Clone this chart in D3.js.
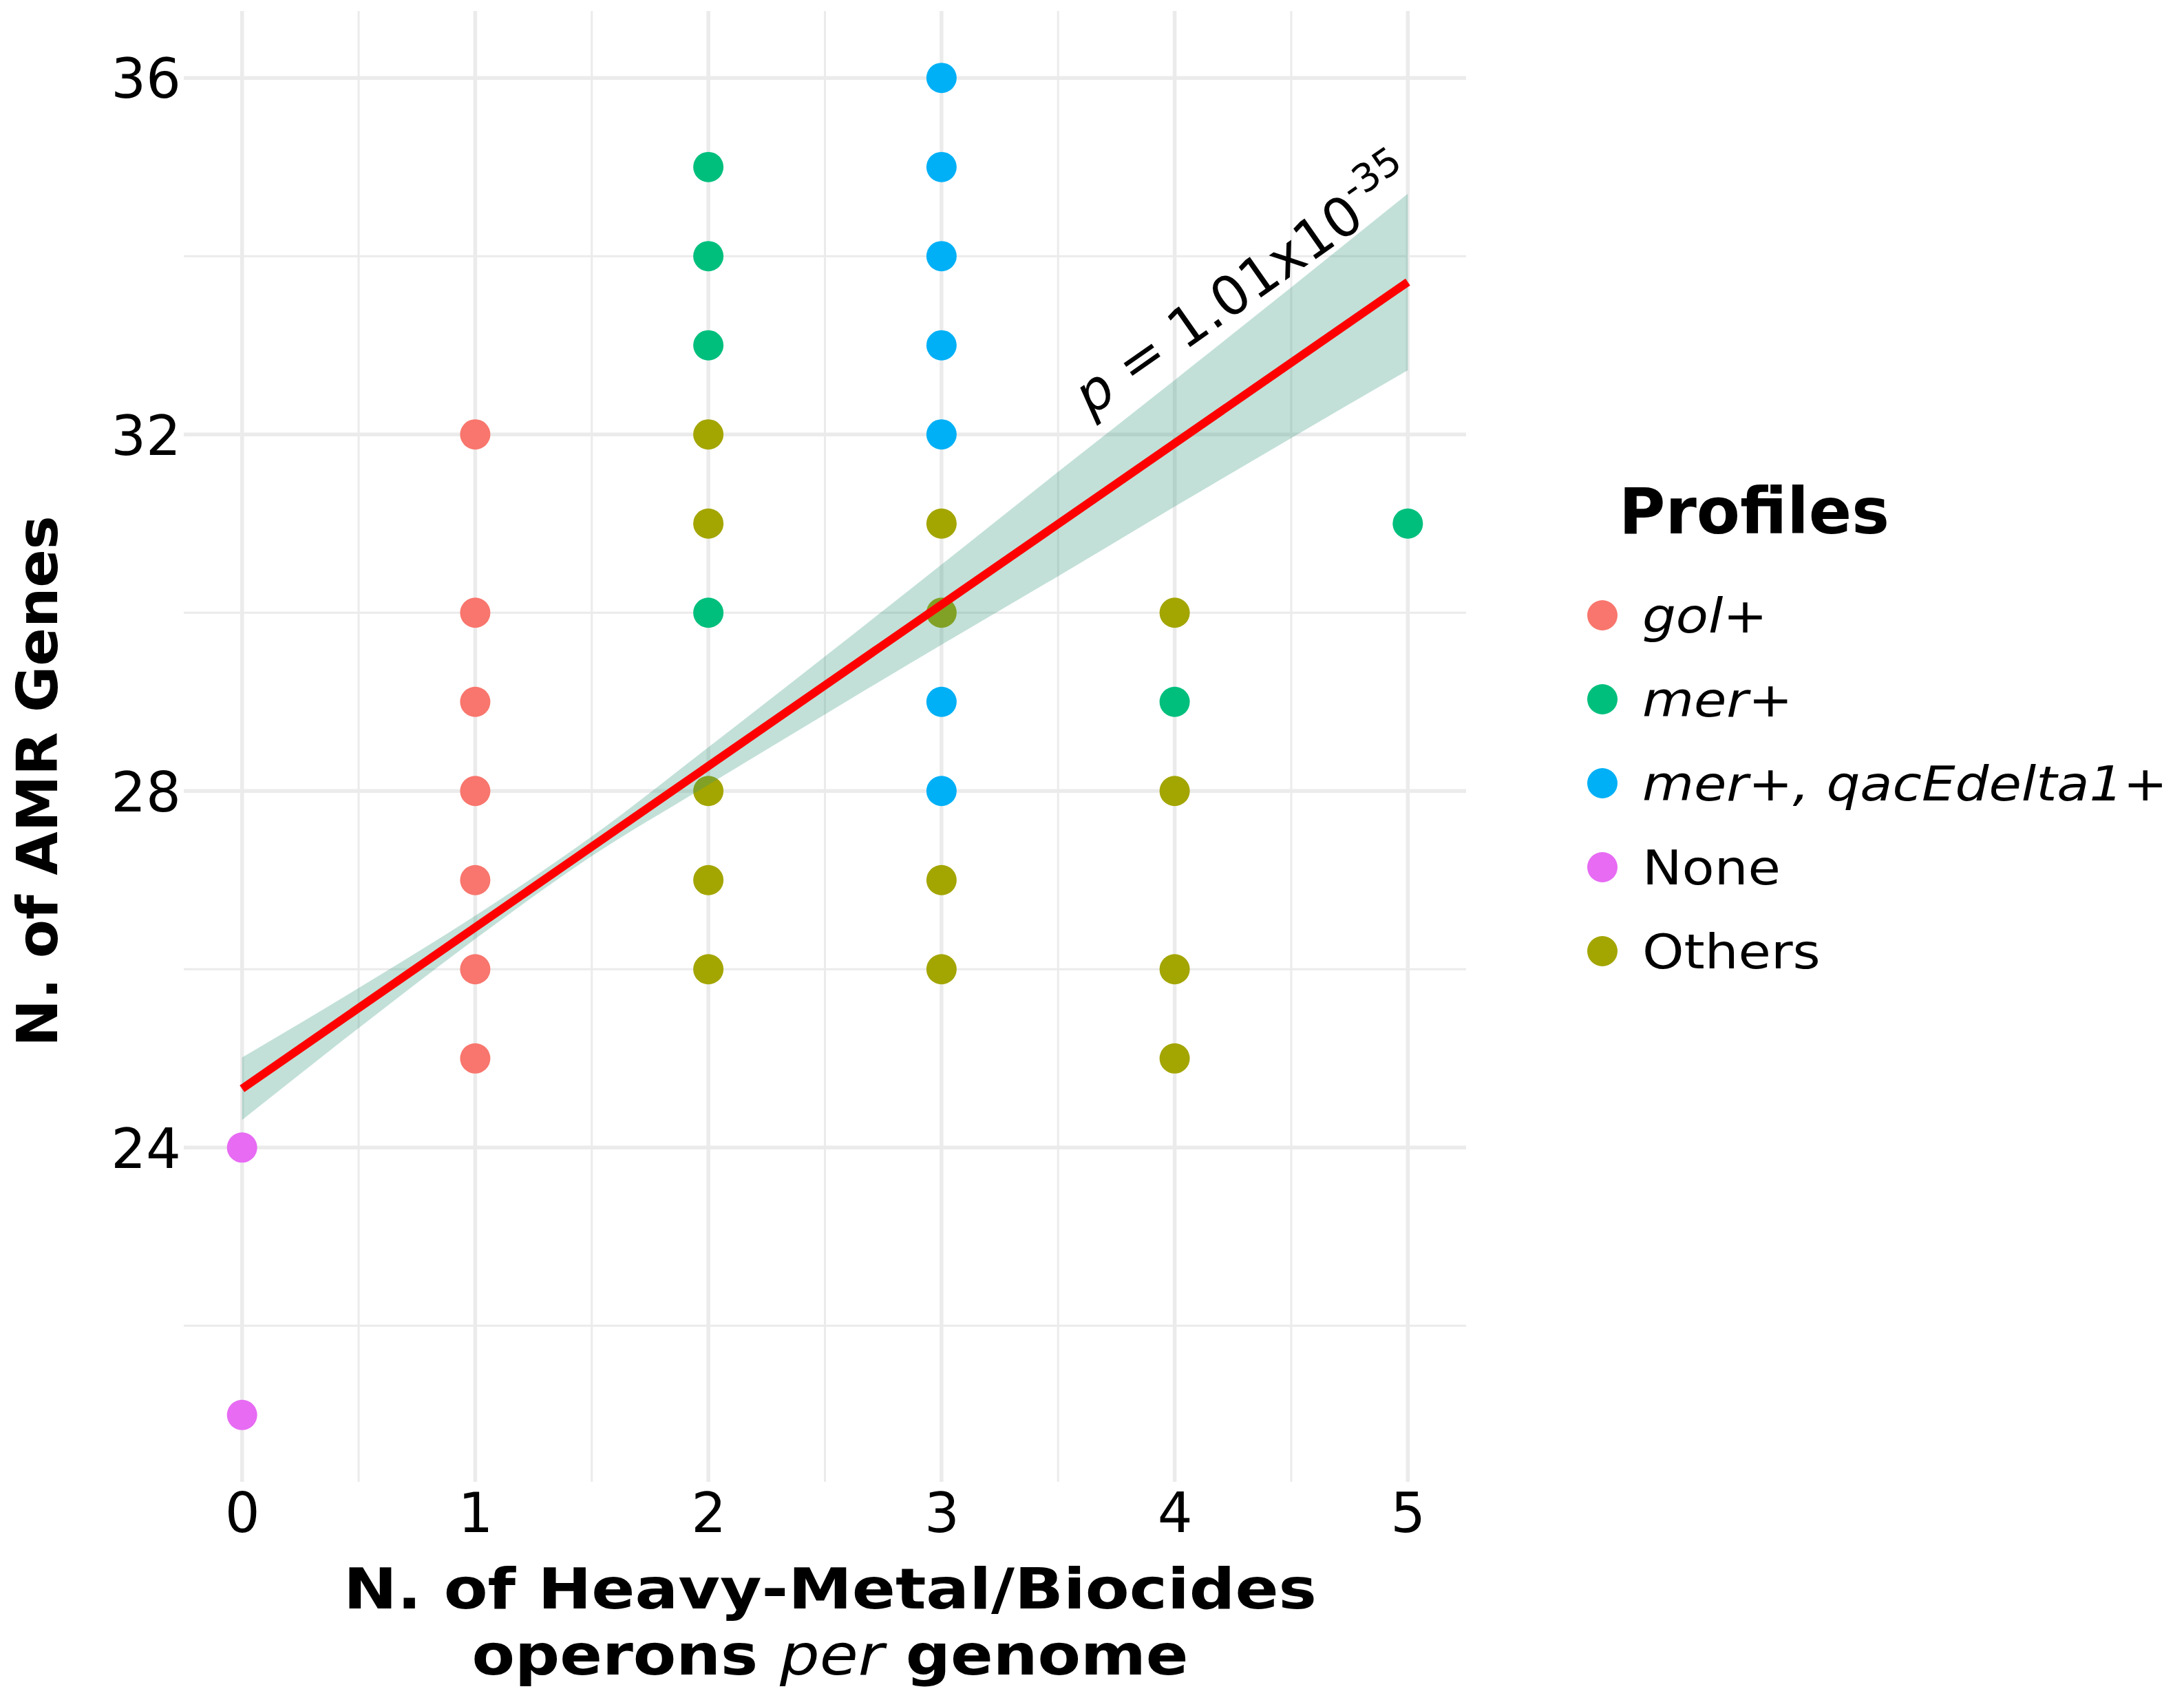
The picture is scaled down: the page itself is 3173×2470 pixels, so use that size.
<!DOCTYPE html>
<html>
<head>
<meta charset="utf-8">
<script src="https://cdn.jsdelivr.net/npm/d3@7"></script>
<style>
  html, body { margin: 0; padding: 0; background: #ffffff; }
  svg { display: block; }
  text { font-family: "DejaVu Sans", Verdana, sans-serif; fill: #000; }
</style>
</head>
<body>
<script>
// ---------------- DATA ----------------
const profiles = ["gol+", "mer+", "mer+, qacEdelta1+", "None", "Others"];
const profileColors = ["#F8766D", "#00BF7D", "#00B0F6", "#E76BF3", "#A3A500"];
const profileItalic = [true, true, true, false, false];

const golX = [1, 1, 1, 1, 1, 1, 1];
const golY = [32, 30, 29, 28, 27, 26, 25];
const merX = [2, 2, 2, 2, 4, 5];
const merY = [35, 34, 33, 30, 29, 31];
const merQacX = [3, 3, 3, 3, 3, 3, 3];
const merQacY = [36, 35, 34, 33, 32, 29, 28];
const noneX = [0, 0];
const noneY = [24, 21];
const othersX = [2, 2, 2, 2, 2, 3, 3, 3, 3, 4, 4, 4, 4];
const othersY = [32, 31, 28, 27, 26, 31, 30, 27, 26, 30, 28, 26, 25];

// fitted regression line and its confidence band
const fitX = [0, 5];
const fitY = [24.66, 33.71];
const bandX  = [0, 0.5, 1, 1.5, 2, 2.5, 3, 3.5, 4, 4.5, 5];
const bandLo = [24.31, 25.34, 26.34, 27.27, 28.07, 28.86, 29.64, 30.41, 31.19, 31.96, 32.72];
const bandHi = [25.01, 25.79, 26.60, 27.49, 28.49, 29.51, 30.54, 31.58, 32.61, 33.65, 34.70];

const xMajorTicks = [0, 1, 2, 3, 4, 5];
const xMinorTicks = [0.5, 1.5, 2.5, 3.5, 4.5];
const yMajorTicks = [24, 28, 32, 36];
const yMinorTicks = [22, 26, 30, 34];

const annotPos = [3.64, 32.2];   // data coords of p-value label start
const annotAngle = -35;

// ---------------- LAYOUT ----------------
const W = 3173, H = 2470;
const panel = { left: 267, right: 2130, top: 16, bottom: 2153 };

const svg = d3.select("body").append("svg")
  .attr("width", W).attr("height", H)
  .attr("viewBox", `0 0 ${W} ${H}`);

svg.append("rect").attr("width", W).attr("height", H).attr("fill", "#fff");

const x = d3.scaleLinear().domain([-0.25, 5.25]).range([panel.left, panel.right]);
const y = d3.scaleLinear().domain([20.25, 36.75]).range([panel.bottom, panel.top]);

const gridColor = "#EBEBEB";
const grid = svg.append("g");
// minor grid
grid.selectAll(".vminor").data(xMinorTicks).join("line")
  .attr("x1", d => x(d)).attr("x2", d => x(d))
  .attr("y1", panel.top).attr("y2", panel.bottom)
  .attr("stroke", gridColor).attr("stroke-width", 3);
grid.selectAll(".hminor").data(yMinorTicks).join("line")
  .attr("y1", d => y(d)).attr("y2", d => y(d))
  .attr("x1", panel.left).attr("x2", panel.right)
  .attr("stroke", gridColor).attr("stroke-width", 3);
// major grid
grid.selectAll(".vmajor").data(xMajorTicks).join("line")
  .attr("x1", d => x(d)).attr("x2", d => x(d))
  .attr("y1", panel.top).attr("y2", panel.bottom)
  .attr("stroke", gridColor).attr("stroke-width", 5.5);
grid.selectAll(".hmajor").data(yMajorTicks).join("line")
  .attr("y1", d => y(d)).attr("y2", d => y(d))
  .attr("x1", panel.left).attr("x2", panel.right)
  .attr("stroke", gridColor).attr("stroke-width", 5.5);

// axes (labels only, via d3 axes)
const xAxis = d3.axisBottom(x).tickValues(xMajorTicks).tickSize(0).tickPadding(0).tickFormat(d3.format("d"));
const gx = svg.append("g").attr("transform", `translate(0,${panel.bottom})`).call(xAxis);
gx.select(".domain").remove();
gx.selectAll("text")
  .attr("font-size", 80).attr("fill", "#000")
  .attr("font-family", "DejaVu Sans")
  .attr("dy", null).attr("y", 73);

const yAxis = d3.axisLeft(y).tickValues(yMajorTicks).tickSize(0).tickPadding(0).tickFormat(d3.format("d"));
const gy = svg.append("g").attr("transform", `translate(${panel.left - 4},0)`).call(yAxis);
gy.select(".domain").remove();
gy.selectAll("text")
  .attr("font-size", 80).attr("fill", "#000")
  .attr("font-family", "DejaVu Sans")
  .attr("dy", "0.36em").attr("x", 0);

// points
const series = [
  { xs: golX, ys: golY },
  { xs: merX, ys: merY },
  { xs: merQacX, ys: merQacY },
  { xs: noneX, ys: noneY },
  { xs: othersX, ys: othersY }
];
const pts = [];
series.forEach((s, i) => s.xs.forEach((xv, j) => pts.push({ x: xv, y: s.ys[j], c: profileColors[i] })));
svg.append("g").selectAll("circle").data(pts).join("circle")
  .attr("cx", d => x(d.x)).attr("cy", d => y(d.y)).attr("r", 22)
  .attr("fill", d => d.c);

// confidence band
const bandData = bandX.map((xv, i) => ({ x: xv, lo: bandLo[i], hi: bandHi[i] }));
svg.append("path").datum(bandData)
  .attr("d", d3.area().x(d => x(d.x)).y0(d => y(d.lo)).y1(d => y(d.hi)).curve(d3.curveMonotoneX))
  .attr("fill", "rgb(52,152,125)").attr("fill-opacity", 0.3);

// regression line
svg.append("path").datum(fitX.map((xv, i) => ({ x: xv, y: fitY[i] })))
  .attr("d", d3.line().x(d => x(d.x)).y(d => y(d.y)))
  .attr("stroke", "#FF0000").attr("stroke-width", 12).attr("fill", "none");

// p-value annotation
const ann = svg.append("text")
  .attr("transform", `translate(${x(annotPos[0])},${y(annotPos[1])}) rotate(${annotAngle})`)
  .attr("font-size", 79);
ann.append("tspan").attr("font-style", "italic").text("p");
ann.append("tspan").text(" = 1.01x10");
ann.append("tspan").attr("font-size", 56).attr("dy", -36).text("-35");

// axis titles
svg.append("text")
  .attr("transform", `translate(83,1135) rotate(-90)`)
  .attr("text-anchor", "middle").attr("font-size", 82).attr("font-weight", "bold")
  .text("N. of AMR Genes");

svg.append("text")
  .attr("transform", `translate(1206,2337) scale(1.135,1)`)
  .attr("text-anchor", "middle").attr("font-size", 82).attr("font-weight", "bold")
  .text("N. of Heavy-Metal/Biocides");
const xt2 = svg.append("text")
  .attr("transform", `translate(1206,2433) scale(1.11,1)`)
  .attr("text-anchor", "middle").attr("font-size", 82).attr("font-weight", "bold");
xt2.append("tspan").text("operons ");
xt2.append("tspan").attr("font-style", "italic").attr("font-weight", "normal").text("per");
xt2.append("tspan").text(" genome");

// legend
const legend = svg.append("g");
legend.append("text").attr("x", 2352).attr("y", 775)
  .attr("font-size", 92).attr("font-weight", "bold").text("Profiles");
const legY0 = 894, legStep = 122;
const items = legend.selectAll(".item").data(profiles).join("g")
  .attr("transform", (d, i) => `translate(0,${legY0 + i * legStep})`);
items.append("circle").attr("cx", 2328).attr("cy", 0).attr("r", 22)
  .attr("fill", (d, i) => profileColors[i]);
items.append("text")
  .attr("transform", "translate(2386,25) scale(1.1,1)")
  .attr("font-size", 70)
  .attr("font-style", (d, i) => profileItalic[i] ? "italic" : "normal")
  .text(d => d);
</script>
</body>
</html>
